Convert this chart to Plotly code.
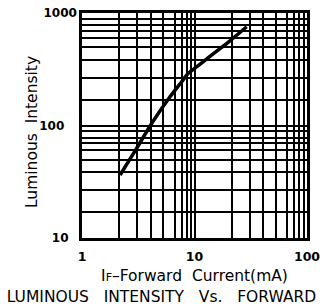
import plotly.graph_objects as go

# Curve
current_ma = [2.18, 3.06, 4.17, 6.06, 7.69, 8.81, 10.5, 13.7, 20.0, 29.1]
intensity = [36.3, 62.7, 104.8, 180, 245, 291, 333, 411, 551, 755]

# Grid line positions as drawn in the reference (per decade)
x_grid_mult = [2.15, 3.1, 4.1, 5.3, 6.65, 7.7, 8.5, 9.35]
y_grid_mult = [1.70, 2.66, 3.85, 4.95, 6.0, 6.96, 7.78, 8.85]
x_major = [1, 10, 100]
y_major = [10, 100, 1000]
x_major_text = ["1", "10", "100"]
y_major_text = ["10\u00a0\u00a0", "100\u00a0\u00a0\u00a0", "1000"]

x_vals, x_text = [], []
for d in [1, 10]:
    for m in x_grid_mult:
        x_vals.append(d * m)
        x_text.append("")
x_vals += x_major
x_text += x_major_text

y_vals, y_text = [], []
for d in [10, 100]:
    for m in y_grid_mult:
        y_vals.append(d * m)
        y_text.append("")
y_vals += y_major
y_text += y_major_text

FONT = "DejaVu Sans, sans-serif"
SP = "\u00a0"

fig = go.Figure()
fig.add_trace(go.Scatter(x=current_ma, y=intensity, mode="lines",
                         line=dict(color="black", width=3.5, shape="spline", smoothing=0.7),
                         showlegend=False, hoverinfo="skip"))

fig.update_layout(
    width=323, height=308,
    margin=dict(l=82, r=16, t=13, b=70),
    paper_bgcolor="white", plot_bgcolor="white",
    font=dict(family=FONT, color="black"),
    title=dict(text="LUMINOUS" + SP * 3 + "INTENSITY" + SP * 3 + "Vs." + SP * 3 + "FORWARD",
               x=0.5, xanchor="center", y=1 - 297 / 308, yanchor="middle",
               yref="container", automargin=False,
               font=dict(family=FONT, size=15.5, color="black")),
    annotations=[dict(text="Luminous" + SP * 2 + "Intensity", textangle=-90,
                      xref="paper", yref="paper", x=(32 - 82) / 225, y=(238 - 132) / 225,
                      xanchor="center", yanchor="middle", showarrow=False,
                      font=dict(family=FONT, size=15.5, color="black"))],
)
fig.update_xaxes(type="log", range=[0, 2], tickvals=x_vals, ticktext=x_text,
                 automargin=False,
                 showgrid=True, gridcolor="black", gridwidth=1.6,
                 showline=True, linecolor="black", linewidth=2.5, mirror=True,
                 ticks="", ticklabelstandoff=5, zeroline=False,
                 tickfont=dict(family=FONT, size=12.5, color="black", weight="bold"),
                 title=dict(text="I<span style='font-size:11px'>F</span>\u2013Forward" + SP * 2 + "Current(mA)",
                            font=dict(family=FONT, size=15.5, color="black"), standoff=8))
fig.update_yaxes(type="log", range=[1, 3], tickvals=y_vals, ticktext=y_text,
                 automargin=False,
                 showgrid=True, gridcolor="black", gridwidth=1.6,
                 showline=True, linecolor="black", linewidth=2.5, mirror=True,
                 ticks="", zeroline=False,
                 tickfont=dict(family=FONT, size=12, color="black", weight="bold"))

fig.write_html("out.html", config={"displayModeBar": False},
               post_script="document.body.style.margin='0px';document.body.style.overflow='hidden';")
